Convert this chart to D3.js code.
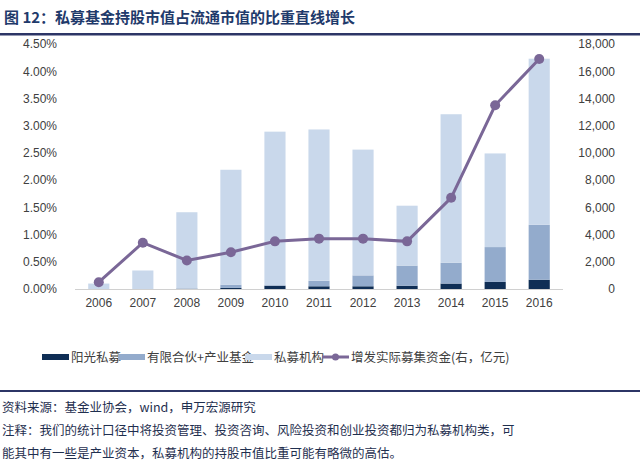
<!DOCTYPE html>
<html><head><meta charset="utf-8">
<script src="https://cdn.jsdelivr.net/npm/d3@7"></script>
<style>body{margin:0;background:#fff}svg{font-family:"Liberation Sans","Noto Sans CJK SC",sans-serif}</style>
</head><body><svg id="c" width="640" height="466"></svg>
<script>
// chart data
const years = ["2006","2007","2008","2009","2010","2011","2012","2013","2014","2015","2016"];
const sunshine = [0, 0, 0.005, 0.02, 0.06, 0.05, 0.05, 0.06, 0.10, 0.13, 0.17];
const partnership = [0, 0, 0.005, 0.06, 0.01, 0.10, 0.20, 0.37, 0.38, 0.64, 1.01];
const institutions = [0.10, 0.34, 1.40, 2.11, 2.82, 2.78, 2.31, 1.10, 2.73, 1.72, 3.05];
const raised = [500, 3400, 2100, 2700, 3500, 3700, 3700, 3500, 6700, 13500, 16900];
const leftTicks = [0, 0.005, 0.01, 0.015, 0.02, 0.025, 0.03, 0.035, 0.04, 0.045];
const rightTicks = [0, 2000, 4000, 6000, 8000, 10000, 12000, 14000, 16000, 18000];
const legendLabels = ["阳光私募", "有限合伙+产业基金", "私募机构", "增发实际募集资金(右，亿元)"];
const colors = ["#0f2e55", "#93abcc", "#c9d8eb"];
const lineColor = "#7a6797";

const svg = d3.select("#c");
const cjk = '"Noto Sans CJK SC",sans-serif';

// title
svg.append("text").attr("x", 4).attr("y", 23).attr("fill", "#1f3a6b")
  .style("font-family", cjk).style("font-size", "15px").style("font-weight", "bold")
  .text("图 12：私募基金持股市值占流通市值的比重直线增长");
svg.append("rect").attr("x", 0).attr("y", 33).attr("width", 640).attr("height", 2.5).attr("fill", "#2c3566");

const x = d3.scaleBand().domain(years).range([75, 563]).paddingInner(0.52).paddingOuter(0.3);
const yL = d3.scaleLinear().domain([0, 0.045]).range([289, 44]);
const yR = d3.scaleLinear().domain([0, 18000]).range([289, 44]);

// stacked bars
const rows = years.map((yr, i) => ({year: yr, a: sunshine[i] / 100, b: partnership[i] / 100, c: institutions[i] / 100}));
const stack = d3.stack().keys(["a", "b", "c"])(rows);
stack.forEach((s, k) => {
  svg.append("g").selectAll("rect").data(s).join("rect")
    .attr("x", d => x(d.data.year)).attr("width", x.bandwidth())
    .attr("y", d => yL(d[1])).attr("height", d => yL(d[0]) - yL(d[1]))
    .attr("fill", colors[k]);
});

// baseline
svg.append("line").attr("x1", 75).attr("x2", 563).attr("y1", 289.5).attr("y2", 289.5).attr("stroke", "#d0d0d0");

// axes
const axL = svg.append("g").attr("transform", "translate(60,0)")
  .call(d3.axisLeft(yL).tickValues(leftTicks).tickFormat(d3.format(".2%")).tickSize(0));
const axR = svg.append("g").attr("transform", "translate(618,0)")
  .call(d3.axisLeft(yR).tickValues(rightTicks).tickFormat(d3.format(",")).tickSize(0));
const axB = svg.append("g").attr("transform", "translate(0,289)")
  .call(d3.axisBottom(x).tickSize(0).tickPadding(9));
[axL, axR, axB].forEach(a => {
  a.select(".domain").remove();
  a.selectAll("text").style("font-size", "12px").attr("fill", "#404040");
});

// line
const cx = d => x(d) + x.bandwidth() / 2;
svg.append("path").datum(raised)
  .attr("d", d3.line().x((d, i) => cx(years[i])).y(d => yR(d)))
  .attr("fill", "none").attr("stroke", lineColor).attr("stroke-width", 3);
svg.append("g").selectAll("circle").data(raised).join("circle")
  .attr("cx", (d, i) => cx(years[i])).attr("cy", d => yR(d)).attr("r", 5).attr("fill", lineColor);

// legend
const lx = [42, 118, 245, 322];
const lg = svg.append("g").style("font-family", cjk).style("font-size", "12.5px");
legendLabels.forEach((label, i) => {
  const g = lg.append("g").attr("transform", `translate(${lx[i]},357)`);
  if (i === 3) {
    g.append("line").attr("x1", 0).attr("x2", 27).attr("y1", 0).attr("y2", 0).attr("stroke", lineColor).attr("stroke-width", 3);
    g.append("circle").attr("cx", 13.5).attr("cy", 0).attr("r", 3.5).attr("fill", lineColor);
  } else {
    g.append("rect").attr("x", 0).attr("y", -3).attr("width", 27).attr("height", 6).attr("fill", colors[i]);
  }
  g.append("text").attr("x", 29).attr("y", 4.5).attr("fill", "#404040").text(label);
});

// footer
svg.append("rect").attr("x", 0).attr("y", 390).attr("width", 640).attr("height", 2).attr("fill", "#2c3566");
const notes = ["资料来源：基金业协会，wind，申万宏源研究",
  "注释：我们的统计口径中将投资管理、投资咨询、风险投资和创业投资都归为私募机构类，可",
  "能其中有一些是产业资本，私募机构的持股市值比重可能有略微的高估。"];
notes.forEach((t, i) => {
  svg.append("text").attr("x", 2).attr("y", 412 + i * 23).attr("fill", "#1f2f4f")
    .style("font-family", cjk).style("font-size", "12.5px").text(t);
});
</script></body></html>
